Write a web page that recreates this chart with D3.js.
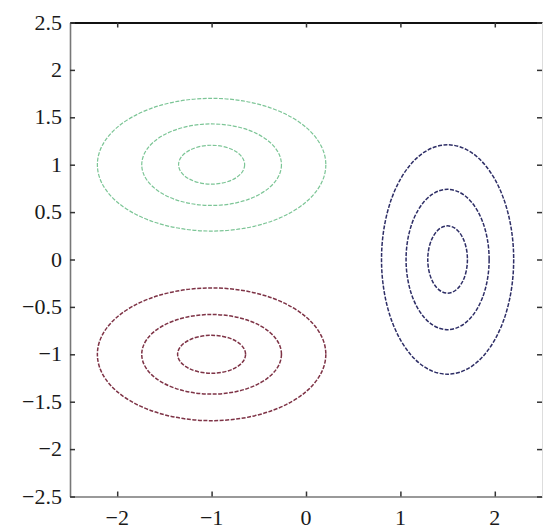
<!DOCTYPE html>
<html>
<head>
<meta charset="utf-8">
<script src="https://cdn.jsdelivr.net/npm/d3@7"></script>
<style>
  html, body { margin: 0; padding: 0; background: #fff; }
  svg { display: block; }
</style>
</head>
<body>
<div id="chart"></div>
<script>
// Axis ticks
const xTicks = [-2, -1, 0, 1, 2];
const yTicks = [-2.5, -2, -1.5, -1, -0.5, 0, 0.5, 1, 1.5, 2, 2.5];

// Three Gaussian clusters: centres and the semi-axes of three contour levels each
const clusterNames = ["green", "red", "blue"];
const centerX = [-1, -1, 1.5];
const centerY = [1, -1, 0];
const semiAxisX = [
  [1.21, 0.74, 0.35],
  [1.21, 0.74, 0.36],
  [0.70, 0.44, 0.21]
];
const semiAxisY = [
  [0.70, 0.43, 0.205],
  [0.70, 0.42, 0.20],
  [1.21, 0.74, 0.355]
];

const strokeColor = { green: "#7cc596", red: "#7e3346", blue: "#2e2e66" };

const W = 545, H = 531;
const plotLeft = 70, plotRight = 542, plotTop = 22.5, plotBottom = 496.5;

const svg = d3.select("#chart").append("svg")
  .attr("width", W).attr("height", H);

const x = d3.scaleLinear().domain([-2.5, 2.5]).range([plotLeft, plotRight]);
const y = d3.scaleLinear().domain([-2.5, 2.5]).range([plotBottom, plotTop]);

const fmt = d3.format("~g");

// Contour ellipses
const rings = [];
clusterNames.forEach((name, i) => {
  semiAxisX[i].forEach((a, j) => {
    rings.push({ name, cx: centerX[i], cy: centerY[i], a, b: semiAxisY[i][j] });
  });
});

svg.append("g").selectAll("ellipse").data(rings).join("ellipse")
  .attr("cx", d => x(d.cx))
  .attr("cy", d => y(d.cy))
  .attr("rx", d => x(d.cx + d.a) - x(d.cx))
  .attr("ry", d => y(d.cy) - y(d.cy + d.b))
  .attr("fill", "none")
  .attr("stroke", d => strokeColor[d.name])
  .attr("stroke-width", d => d.name === "green" ? 1.2 : 1.5)
  .attr("stroke-dasharray", "4,1.5");

// Frame and inward ticks
const gBottom = svg.append("g").attr("transform", `translate(0,${plotBottom})`)
  .call(d3.axisBottom(x).tickValues(xTicks).tickFormat("")
    .tickSizeInner(-5).tickSizeOuter(0));
const gTop = svg.append("g").attr("transform", `translate(0,${plotTop})`)
  .call(d3.axisTop(x).tickValues(xTicks).tickFormat("")
    .tickSizeInner(-5).tickSizeOuter(0));
const gLeft = svg.append("g").attr("transform", `translate(${plotLeft},0)`)
  .call(d3.axisLeft(y).tickValues(yTicks).tickFormat("")
    .tickSizeInner(-5).tickSizeOuter(0));
const gRight = svg.append("g").attr("transform", `translate(${plotRight},0)`)
  .call(d3.axisRight(y).tickValues(yTicks).tickFormat("")
    .tickSizeInner(-5).tickSizeOuter(0));

[gBottom, gTop, gLeft, gRight].forEach(g => {
  g.selectAll(".tick line").attr("stroke", "#333").attr("stroke-width", 1.5);
  g.selectAll(".tick text").remove();
});

gBottom.select(".domain").attr("stroke", "#777").attr("stroke-width", 1.6);
gLeft.select(".domain").attr("stroke", "#777").attr("stroke-width", 1.6);
gTop.select(".domain").attr("stroke", "#111").attr("stroke-width", 2.2);
gRight.select(".domain").attr("stroke", "#ddd").attr("stroke-width", 1);

// Tick labels
const labelFont = '"Liberation Serif", "Times New Roman", serif';

svg.append("g").selectAll("text").data(xTicks).join("text")
  .attr("x", d => x(d))
  .attr("y", plotBottom + 28)
  .attr("text-anchor", "middle")
  .style("font-family", labelFont)
  .style("font-size", "22px")
  .attr("fill", "#1a1a1a")
  .text(fmt);

svg.append("g").selectAll("text").data(yTicks).join("text")
  .attr("x", plotLeft - 8)
  .attr("y", d => y(d) + 7)
  .attr("text-anchor", "end")
  .style("font-family", labelFont)
  .style("font-size", "22px")
  .attr("fill", "#1a1a1a")
  .text(fmt);
</script>
</body>
</html>
